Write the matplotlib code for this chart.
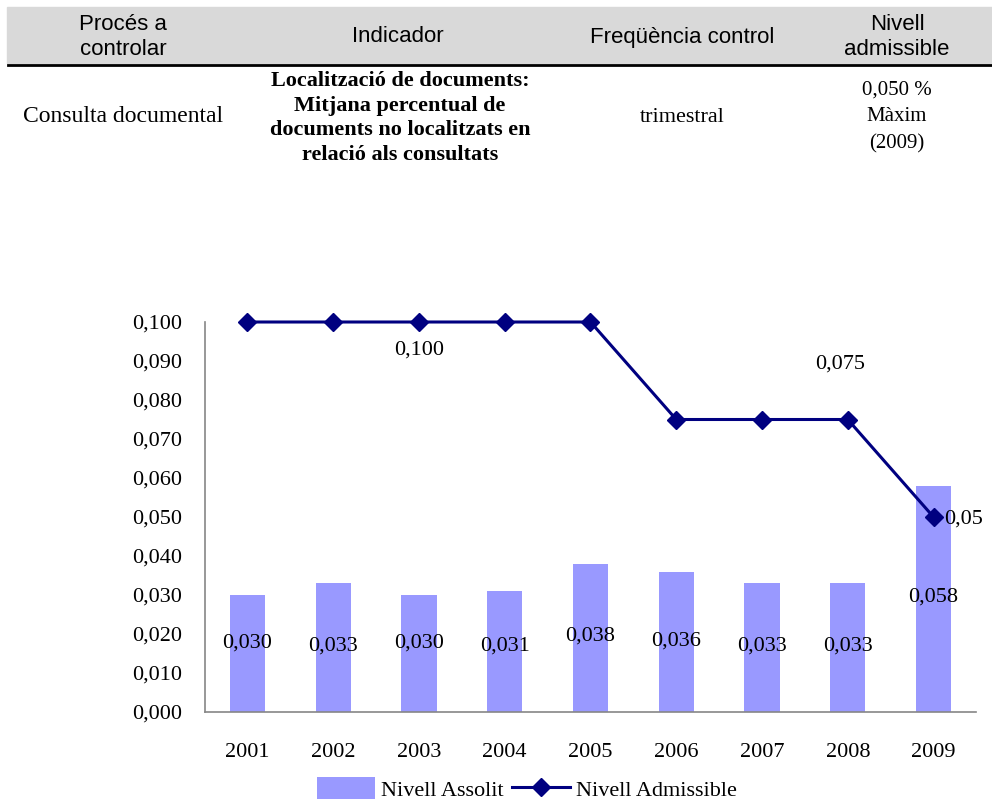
import numpy as np
import matplotlib.pyplot as plt
from matplotlib.patches import Rectangle
from matplotlib.lines import Line2D

# chart data
years = ['2001', '2002', '2003', '2004', '2005', '2006', '2007', '2008', '2009']
assolit = [0.030, 0.033, 0.030, 0.031, 0.038, 0.036, 0.033, 0.033, 0.058]
admissible = [0.100, 0.100, 0.100, 0.100, 0.100, 0.075, 0.075, 0.075, 0.050]
yticks = [0.0, 0.01, 0.02, 0.03, 0.04, 0.05, 0.06, 0.07, 0.08, 0.09, 0.10]

# table texts
headers = ['Procés a\ncontrolar', 'Indicador', 'Freqüència control', 'Nivell\nadmissible']
row = ['Consulta documental',
       'Localització de documents:\nMitjana percentual de\ndocuments no localitzats en\nrelació als consultats',
       'trimestral',
       '0,050 %\nMàxim\n(2009)']

# label placement (height of each bar label, as in the original)
bar_label_y = [0.0177, 0.0169, 0.0177, 0.0169, 0.0195, 0.0182, 0.0169, 0.0169, 0.0295]

serif = ['Liberation Serif', 'DejaVu Serif']
narrow = ['Liberation Sans Narrow', 'Liberation Sans', 'DejaVu Sans']
W, H = 992, 800
fs = 16

fig = plt.figure(figsize=(9.92, 8), dpi=100)

# header band of the table
fig.patches.append(Rectangle((7 / W, 1 - 63 / H), 985 / W, 56 / H,
                             transform=fig.transFigure, color='#d9d9d9', zorder=0))
fig.lines.append(Line2D([8 / W, 1], [1 - 65 / H, 1 - 65 / H],
                        transform=fig.transFigure, color='black', lw=2))

col_x = [123, 398, 682, 897]
for cx, h in zip(col_x, headers):
    fig.text(cx / W, 1 - 37 / H, h, ha='center', va='center', family=narrow,
             fontsize=16, linespacing=1.25)

fig.text(col_x[0] / W, 1 - 117 / H, row[0], ha='center', va='center', family=serif, fontsize=17)
fig.text(400 / W, 1 - 118 / H, row[1], ha='center', va='center', family=serif,
         fontsize=16, fontweight='bold', linespacing=1.3)
fig.text(col_x[2] / W, 1 - 117 / H, row[2], ha='center', va='center', family=serif, fontsize=16)
fig.text(col_x[3] / W, 1 - 117 / H, row[3], ha='center', va='center', family=serif,
         fontsize=15, linespacing=1.55)

# chart
ax = fig.add_axes([204.6 / W, 1 - 712 / H, 771.8 / W, 390 / H])
x = np.arange(len(years))
bars = ax.bar(x, assolit, width=0.41, color='#9999ff', label='Nivell Assolit', zorder=2)
line, = ax.plot(x, admissible, color='#000080', lw=2.2, marker='D', markersize=9,
                label='Nivell Admissible', zorder=3, clip_on=False)

ax.set_xlim(-0.5, len(years) - 0.5)
ax.set_ylim(0, 0.1)
ax.set_yticks(yticks)
ax.set_yticklabels([('%.3f' % v).replace('.', ',') for v in yticks])
ax.set_xticks(x)
ax.set_xticklabels(years)
ax.tick_params(axis='both', length=0, labelsize=fs)
ax.tick_params(axis='y', pad=16)
ax.tick_params(axis='x', pad=22)
for lab in ax.get_xticklabels() + ax.get_yticklabels():
    lab.set_family(serif)
for s in ['top', 'right']:
    ax.spines[s].set_visible(False)
for s in ['left', 'bottom']:
    ax.spines[s].set_color('#868686')
    ax.spines[s].set_linewidth(1.2)

# data labels
for xi, v, ly in zip(x, assolit, bar_label_y):
    ax.text(xi, ly, ('%.3f' % v).replace('.', ','), ha='center', va='center',
            family=serif, fontsize=fs)
ax.text(2, 0.0928, '0,100', ha='center', va='center', family=serif, fontsize=fs)
ax.text(6.91, 0.0892, '0,075', ha='center', va='center', family=serif, fontsize=fs)
ax.text(8.12, 0.0495, '0,05', ha='left', va='center', family=serif, fontsize=fs, clip_on=False)

fig.legend(handles=[bars, line], loc='center', bbox_to_anchor=(527 / W, 1 - 789 / H),
           ncol=2, frameon=False, prop={'family': serif, 'size': fs},
           handlelength=2.6, handleheight=1.1, columnspacing=0.4, handletextpad=0.25)

fig.savefig('out.png', dpi=100)
